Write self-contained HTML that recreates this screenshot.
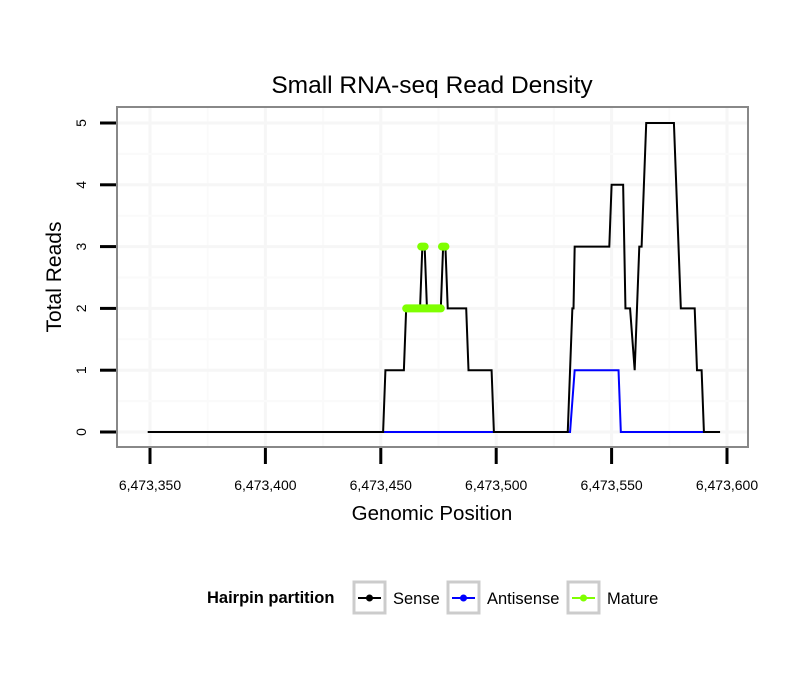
<!DOCTYPE html>
<html><head><meta charset="utf-8"><style>
body{margin:0;background:#fff}
text{font-family:"Liberation Sans",sans-serif}
</style></head><body>
<svg id="chart" width="810" height="690">
<rect width="810" height="690" fill="#fff"/>
<text x="432" y="93" font-size="24.5" text-anchor="middle">Small RNA-seq Read Density</text>
<g id="grid"></g>
<g id="series"></g>
<rect x="117" y="107" width="631" height="340" fill="none" stroke="#888" stroke-width="2"/>
<g id="axes"></g>
<text x="432" y="520" font-size="20.5" text-anchor="middle">Genomic Position</text>
<text transform="translate(61,277) rotate(-90)" font-size="21" text-anchor="middle">Total Reads</text>
<g>
<text x="207" y="603" font-size="16.5" font-weight="bold">Hairpin partition</text>
<g>
<rect x="354" y="582" width="31" height="31" fill="#fff" stroke="#ccc" stroke-width="3"/>
<line x1="358" y1="598" x2="381" y2="598" stroke="#000" stroke-width="2"/><circle cx="369.5" cy="598" r="3.5" fill="#000"/>
<text x="393" y="604" font-size="16.5">Sense</text></g>
<g>
<rect x="448" y="582" width="31" height="31" fill="#fff" stroke="#ccc" stroke-width="3"/>
<line x1="452" y1="598" x2="475" y2="598" stroke="#00f" stroke-width="2"/><circle cx="463.5" cy="598" r="3.5" fill="#00f"/>
<text x="487" y="604" font-size="16.5">Antisense</text></g>
<g>
<rect x="568" y="582" width="31" height="31" fill="#fff" stroke="#ccc" stroke-width="3"/>
<line x1="572" y1="598" x2="595" y2="598" stroke="#7fff00" stroke-width="2"/><circle cx="583.5" cy="598" r="3.5" fill="#7fff00"/>
<text x="607" y="604" font-size="16.5">Mature</text></g>
</g>
</svg>
<script>
const xTicks=[6473350,6473400,6473450,6473500,6473550,6473600];
const yTicks=[0,1,2,3,4,5];
const senseX=[6473349,6473451,6473452,6473460,6473461,6473467,6473468,6473469,6473470,6473476,6473477,6473478,6473479,6473487,6473488,6473498,6473499,6473531,6473533,6473533.5,6473534,6473549,6473550,6473555,6473556,6473558,6473560,6473562,6473563,6473565,6473577,6473580,6473586,6473587,6473589,6473590,6473597];
const senseY=[0,0,1,1,2,2,3,3,2,2,3,3,2,2,1,1,0,0,2,2,3,3,4,4,2,2,1,3,3,5,5,2,2,1,1,0,0];
const antiX=[6473451,6473532,6473534,6473553,6473554,6473590];
const antiY=[0,0,1,1,0,0];
const matureStart=[6473461,6473467.5,6473476.5];
const matureEnd=[6473476,6473469,6473478];
const matureY=[2,3,3];
const NS="http://www.w3.org/2000/svg";
const sx=v=>150+(v-6473350)*(577/250);
const sy=v=>432-v*61.8;
function mk(t,a,p){const e=document.createElementNS(NS,t);for(const k in a)e.setAttribute(k,a[k]);p.appendChild(e);return e;}
const grid=document.getElementById('grid'),axes=document.getElementById('axes'),ser=document.getElementById('series');
for(let i=0;i<xTicks.length;i++){
 const g=mk('line',{x1:sx(xTicks[i]),x2:sx(xTicks[i]),y1:108,y2:446,stroke:'#f6f6f6','stroke-width':3},grid);
 
 
 if(i<xTicks.length-1){const m=mk('line',{x1:sx(xTicks[i]+25),x2:sx(xTicks[i]+25),y1:108,y2:446,stroke:'#fafafa','stroke-width':2},grid);
 
 }
 const t=mk('line',{x1:sx(xTicks[i]),x2:sx(xTicks[i]),y1:448,y2:464,stroke:'#000','stroke-width':3},axes);
 
 
 const l=mk('text',{x:sx(xTicks[i]),y:490,'font-size':14,'text-anchor':'middle'},axes);
 l.textContent=xTicks[i].toLocaleString('en-US');
 
 
}
for(let i=0;i<yTicks.length;i++){
 const g=mk('line',{x1:118,x2:747,y1:sy(yTicks[i]),y2:sy(yTicks[i]),stroke:'#f6f6f6','stroke-width':3},grid);
 
 
 if(i<yTicks.length-1){const m=mk('line',{x1:118,x2:747,y1:sy(yTicks[i]+0.5),y2:sy(yTicks[i]+0.5),stroke:'#fafafa','stroke-width':2},grid);
 
 }
 const t=mk('line',{x1:100,x2:116,y1:sy(yTicks[i]),y2:sy(yTicks[i]),stroke:'#000','stroke-width':3},axes);
 
 
 const l=mk('text',{transform:`translate(86,${sy(yTicks[i])}) rotate(-90)`,'font-size':14,'text-anchor':'middle'},axes);
 l.textContent=yTicks[i];
 
 
}
const pts=(X,Y)=>X.map((x,i)=>sx(x)+','+sy(Y[i])).join(' ');
const s=mk('polyline',{points:pts(senseX,senseY),fill:'none',stroke:'#000','stroke-width':2},ser);


const a=mk('polyline',{points:pts(antiX,antiY),fill:'none',stroke:'#00f','stroke-width':2},ser);


ser.appendChild(s);
for(let i=0;i<matureStart.length;i++){
 const m=mk('line',{x1:sx(matureStart[i]),x2:sx(matureEnd[i]),y1:sy(matureY[i]),y2:sy(matureY[i]),stroke:'#7fff00','stroke-width':8,'stroke-linecap':'round'},ser);
 
 
}
</script>
</body></html>
